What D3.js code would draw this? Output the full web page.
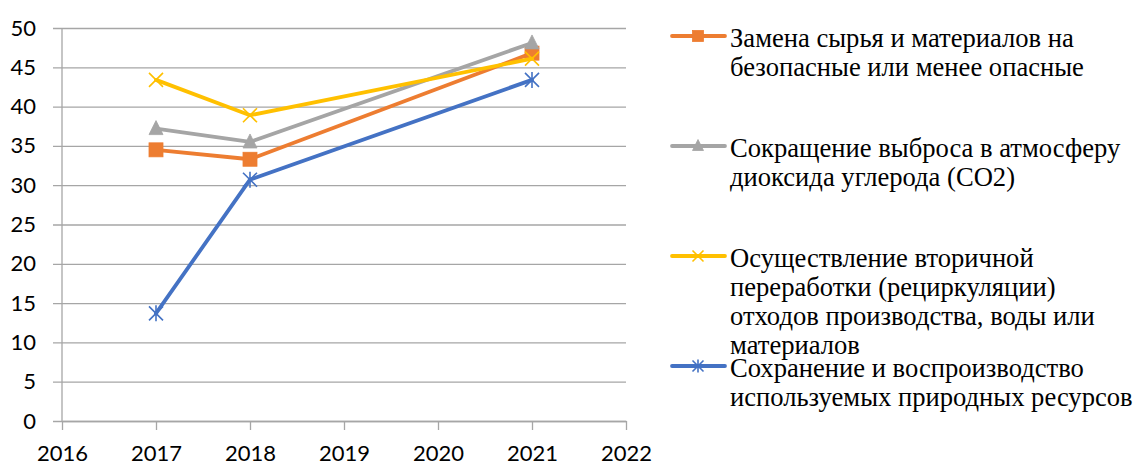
<!DOCTYPE html>
<html><head><meta charset="utf-8">
<script src="https://cdn.jsdelivr.net/npm/d3@7"></script>
<style>body{margin:0;background:#fff}svg{display:block}</style>
</head><body>
<script>
const years = [2017, 2018, 2021];
const seriesNames = [
  ["Замена сырья и материалов на", "безопасные или менее опасные"],
  ["Сокращение выброса в атмосферу", "диоксида углерода (CO2)"],
  ["Осуществление вторичной", "переработки (рециркуляции)", "отходов производства, воды или", "материалов"],
  ["Сохранение и воспроизводство", "используемых природных ресурсов"]
];
const replacement = [34.5, 33.3, 46.8];
const co2 = [37.2, 35.5, 48.1];
const recycling = [43.4, 38.9, 46.1];
const conservation = [13.7, 30.7, 43.4];
const xTicks = [2016, 2017, 2018, 2019, 2020, 2021, 2022];
const yTicks = [0, 5, 10, 15, 20, 25, 30, 35, 40, 45, 50];

const colors = ["#ED7D31", "#A5A5A5", "#FFC000", "#4472C4"];
const markers = ["square", "triangle", "x", "star"];
const values = [replacement, co2, recycling, conservation];

const W = 1138, H = 466;
const svg = d3.select("body").append("svg").attr("width", W).attr("height", H);

const x = d3.scaleLinear().domain([2016, 2022]).range([62, 626]);
const y = d3.scaleLinear().domain([0, 50]).range([421, 28]);
const axisFont = "Lato, 'Liberation Sans', sans-serif";

// gridlines + y labels
const gy = svg.append("g").attr("transform", `translate(626,0)`)
  .call(d3.axisLeft(y).tickValues(yTicks).tickSize(626 - 53).tickPadding(17).tickFormat(d3.format("d")));
gy.select(".domain").remove();
gy.selectAll(".tick line").attr("stroke", "#A6A6A6").attr("stroke-width", 1.3);
gy.selectAll(".tick text").attr("font-family", axisFont).attr("font-size", 22).attr("fill", "#000");

// x axis
const gx = svg.append("g").attr("transform", `translate(0,421)`)
  .call(d3.axisBottom(x).tickValues(xTicks).tickSize(9).tickSizeOuter(0).tickPadding(15).tickFormat(d3.format("d")));
gx.select(".domain").attr("stroke", "#A6A6A6").attr("stroke-width", 1.3);
gx.selectAll(".tick line").attr("stroke", "#A6A6A6").attr("stroke-width", 1.3);
gx.selectAll(".tick text").attr("font-family", axisFont).attr("font-size", 22).attr("fill", "#000");

// vertical axis line
svg.append("line").attr("x1", x(2016)).attr("x2", x(2016)).attr("y1", y(50)).attr("y2", y(0))
  .attr("stroke", "#A6A6A6").attr("stroke-width", 1.3);

function drawMarker(g, type, color, cx, cy, s) {
  const h = s / 2;
  if (type === "square") {
    g.append("rect").attr("x", cx - h).attr("y", cy - h).attr("width", s).attr("height", s)
      .attr("fill", color).attr("stroke", color).attr("stroke-width", 0.8);
  } else if (type === "triangle") {
    g.append("path").attr("d", `M${cx},${cy - h - 1}L${cx + h},${cy + h - 1}L${cx - h},${cy + h - 1}Z`)
      .attr("fill", color).attr("stroke", color).attr("stroke-width", 0.8);
  } else if (type === "x") {
    g.append("path").attr("d", `M${cx - h},${cy - h}L${cx + h},${cy + h}M${cx - h},${cy + h}L${cx + h},${cy - h}`)
      .attr("stroke", color).attr("stroke-width", 1.6).attr("fill", "none");
  } else if (type === "star") {
    g.append("path").attr("d", `M${cx - h},${cy - h}L${cx + h},${cy + h}M${cx - h},${cy + h}L${cx + h},${cy - h}M${cx},${cy - h - 1}L${cx},${cy + h + 1}`)
      .attr("stroke", color).attr("stroke-width", 1.6).attr("fill", "none");
  }
}

const line = d3.line().x((d, i) => x(years[i])).y(d => y(d));
values.forEach((vals, si) => {
  const g = svg.append("g");
  g.append("path").attr("d", line(vals)).attr("fill", "none").attr("stroke", colors[si])
    .attr("stroke-width", 3.8).attr("stroke-linejoin", "round").attr("stroke-linecap", "round");
  vals.forEach((v, i) => drawMarker(g, markers[si], colors[si], x(years[i]), y(v), 14));
});

// legend
const legendY = [36, 146, 256, 366];
const lineH = 29;
seriesNames.forEach((lines, si) => {
  const g = svg.append("g");
  const ly = legendY[si];
  g.append("line").attr("x1", 672).attr("x2", 725).attr("y1", ly).attr("y2", ly)
    .attr("stroke", colors[si]).attr("stroke-width", 3.8).attr("stroke-linecap", "round");
  drawMarker(g, markers[si], colors[si], 698, ly, 11);
  const t = g.append("text").attr("x", 730).attr("y", ly + 10.7)
    .attr("font-family", "'Liberation Serif', 'Times New Roman', serif").attr("font-size", 26.6).attr("fill", "#000");
  lines.forEach((l, li) => t.append("tspan").attr("x", 730).attr("dy", li === 0 ? 0 : lineH).text(l));
});
</script>
</body></html>
